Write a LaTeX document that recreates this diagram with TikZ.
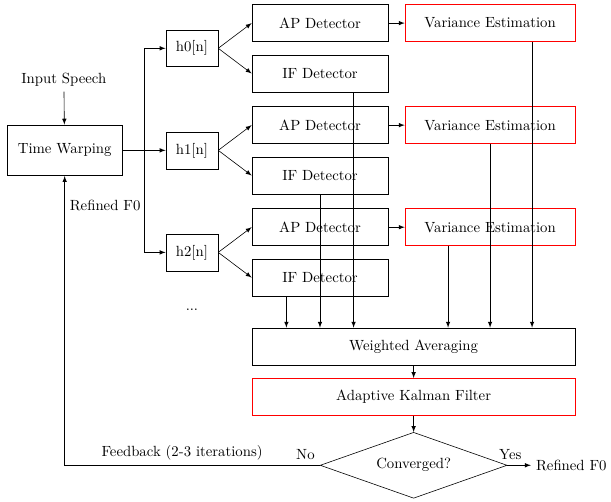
\documentclass[tikz,border=0pt]{standalone}
\usetikzlibrary{shapes.geometric, arrows, positioning, calc}

\begin{document}
\begin{tikzpicture}[node distance=1.2cm]
\tikzstyle{warp} = [rectangle, minimum width=2.74cm, minimum height=1.21cm, text centered, draw=black]
\tikzstyle{filt} = [rectangle, minimum width=1.24cm, minimum height=0.88cm, text centered, draw=black]
\tikzstyle{det} = [rectangle, minimum width=3.24cm, minimum height=0.88cm, text centered, draw=black]
\tikzstyle{est} = [rectangle, minimum width=4.05cm, minimum height=0.88cm, text centered, draw=red]
\tikzstyle{wide} = [rectangle, minimum width=7.69cm, minimum height=0.88cm, text centered, draw=black]
\tikzstyle{decide} = [diamond, aspect=2.83, minimum width=4.45cm, minimum height=1.57cm, inner sep=0pt, text centered, draw=black]
\tikzstyle{arrow} = [-latex]

\useasboundingbox (0,0) rectangle (14.55,-11.95);

\node (tw) [warp] at (1.54,-3.58) {Time Warping};
\node (input) at (1.52,-1.9) {Input Speech};

\node (h1) [filt] at (4.57,-3.58) {h1[n]};
\node (h0) [filt, above of=h1, yshift=1.23cm] {h0[n]};
\node (h2) [filt, below of=h1, yshift=-1.23cm] {h2[n]};
\node (dots) [below of=h2, yshift=-0.17cm] {...};

\node (ap0) [det, right of=h0, xshift=1.85cm, yshift=0.6cm] {AP Detector};
\node (if0) [det, below of=ap0] {IF Detector};
\node (ap1) [det, right of=h1, xshift=1.85cm, yshift=0.6cm] {AP Detector};
\node (if1) [det, below of=ap1] {IF Detector};
\node (ap2) [det, right of=h2, xshift=1.85cm, yshift=0.6cm] {AP Detector};
\node (if2) [det, below of=ap2] {IF Detector};

\node (var0) [est, right of=ap0, xshift=2.85cm] {Variance Estimation};
\node (var1) [est, right of=ap1, xshift=2.85cm] {Variance Estimation};
\node (var2) [est, right of=ap2, xshift=2.85cm] {Variance Estimation};

\node (wa) [wide] at (9.85,-8.25) {Weighted Averaging};
\node (akf) [est, minimum width=7.69cm, below of=wa] {Adaptive Kalman Filter};
\node (conv) [decide, below of=akf, yshift=-0.43cm] {Converged?};
\node (out) [right=0.56cm of conv] {Refined F0};

% input side
\draw [arrow] (input) -- (tw);
\draw [arrow] (tw.east) -- (h1.west);
\coordinate (split) at ($(tw.east)!0.5!(h1.west)$);
\draw [arrow] (split) |- (h0.west);
\draw [arrow] (split) |- (h2.west);

% filter bank
\foreach \i in {0,1,2} {
  \draw [arrow] (h\i.east) -- (ap\i.west);
  \draw [arrow] (h\i.east) -- (if\i.west);
  \draw [arrow] (ap\i.east) -- (var\i.west);
}

% into the averaging
\draw [arrow] ([xshift=-0.8cm]if2.south) -- ([xshift=-0.8cm]if2.south |- wa.north);
\draw [arrow] (if1.south) -- (if1.south |- wa.north);
\draw [arrow] ([xshift=0.8cm]if0.south) -- ([xshift=0.8cm]if0.south |- wa.north);
\draw [arrow] ([xshift=-1cm]var2.south) -- ([xshift=-1cm]var2.south |- wa.north);
\draw [arrow] (var1.south) -- (var1.south |- wa.north);
\draw [arrow] ([xshift=1cm]var0.south) -- ([xshift=1cm]var0.south |- wa.north);

\draw [arrow] (wa) -- (akf);
\draw [arrow] (akf) -- (conv);
\draw [arrow] (conv.east) node[above, xshift=2pt] {Yes} -- (out);

% feedback loop
\coordinate (fb) at (tw.south |- conv.west);
\draw [arrow] (conv.west) node[above left] {No}
  -- node[above, pos=0.54] {Feedback (2-3 iterations)} (fb)
  -- node[right, pos=0.9] {Refined F0} (tw.south);

\end{tikzpicture}
\end{document}
